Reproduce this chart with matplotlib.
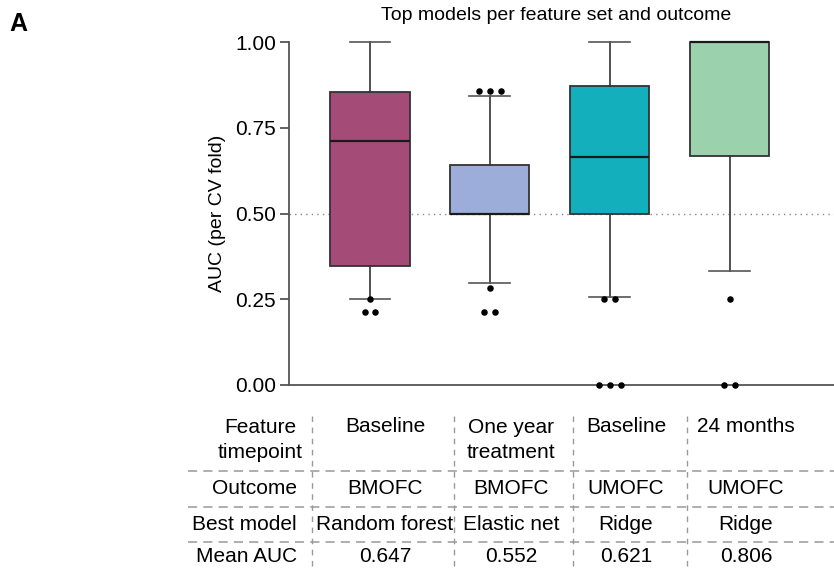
import matplotlib
matplotlib.use('Agg')
import matplotlib.pyplot as plt
from matplotlib.lines import Line2D

plt.rcParams['font.family'] = ['Liberation Sans', 'DejaVu Sans']

# box statistics (AUC per CV fold)
q1 = [0.348, 0.500, 0.500, 0.667]
med = [0.711, 0.500, 0.665, 1.000]
q3 = [0.854, 0.641, 0.872, 1.000]
whislo = [0.252, 0.297, 0.257, 0.333]
whishi = [1.000, 0.843, 1.000, 1.000]
fliers = [[0.25, 0.214, 0.214],
          [0.857, 0.857, 0.857, 0.283, 0.214, 0.214],
          [0.25, 0.25, 0.0, 0.0, 0.0],
          [0.25, 0.0, 0.0]]
colors = ['#A44B78', '#9DADDA', '#13AFBC', '#9CD1AE']

# table under the plot
row_labels = ['Feature\ntimepoint', 'Outcome', 'Best model', 'Mean AUC']
timepoint = ['Baseline', 'One year\ntreatment', 'Baseline', '24 months']
outcome = ['BMOFC', 'BMOFC', 'UMOFC', 'UMOFC']
best_model = ['Random forest', 'Elastic net', 'Ridge', 'Ridge']
mean_auc = ['0.647', '0.552', '0.621', '0.806']

W, H = 834, 571
fig = plt.figure(figsize=(W / 100, H / 100), dpi=100)


def fx(x):
    return x / W


def fy(y):
    return 1 - y / H


ax = fig.add_axes([fx(289), fy(385), fx(834 - 289), (385 - 42) / H])

stats = []
for i in range(4):
    stats.append(dict(q1=q1[i], med=med[i], q3=q3[i], whislo=whislo[i],
                      whishi=whishi[i], fliers=[]))
pos = list(range(4))
bp = ax.bxp(stats, positions=pos, widths=0.66, patch_artist=True,
            showfliers=False, capwidths=0.34,
            boxprops=dict(edgecolor='#333333', linewidth=1.3),
            medianprops=dict(color='#1a1a1a', linewidth=1.6),
            whiskerprops=dict(color='#333333', linewidth=1.2),
            capprops=dict(color='#555555', linewidth=1.2))
for patch, c in zip(bp['boxes'], colors):
    patch.set_facecolor(c)
for k in bp:
    for a in bp[k]:
        a.set_clip_on(False)
        a.set_zorder(3)

# outliers, spread sideways when values repeat
for i, vals in enumerate(fliers):
    for v in sorted(set(vals)):
        n = vals.count(v)
        xs = [i + (j - (n - 1) / 2) * 0.09 for j in range(n)]
        ax.scatter(xs, [v] * n, s=22, color='black', zorder=5, clip_on=False,
                   linewidths=0)

ax.axhline(0.5, color='#888888', linestyle=(0, (1, 3)), linewidth=1, zorder=1)

ax.set_xlim(-0.675, 3.87)
ax.set_ylim(0, 1)
ax.set_yticks([0, 0.25, 0.5, 0.75, 1.0])
ax.set_yticklabels(['0.00', '0.25', '0.50', '0.75', '1.00'])
ax.set_xticks([])
for s in ['top', 'right']:
    ax.spines[s].set_visible(False)
for s in ['left', 'bottom']:
    ax.spines[s].set_color('#555555')
    ax.spines[s].set_linewidth(1.3)
ax.tick_params(axis='y', length=6.5, width=1.3, color='#555555',
               labelsize=15, pad=3)
ax.set_ylabel('AUC (per CV fold)', fontsize=14, labelpad=6)

fig.text(fx(556), fy(16), 'Top models per feature set and outcome',
         ha='center', va='center', fontsize=14)
fig.text(fx(9), fy(24), 'A', ha='left', va='center', fontsize=18,
         fontweight='bold')

# table
col_x = [385, 511, 626, 746]
row_y = [440, 488, 525, 557]
cells = [timepoint, outcome, best_model, mean_auc]
for r in range(4):
    if r == 0:
        fig.text(fx(303), fy(row_y[r]), row_labels[r], ha='right',
                 va='center', multialignment='center', fontsize=15,
                 linespacing=1.35)
    else:
        fig.text(fx(297), fy(row_y[r]), row_labels[r], ha='right',
                 va='center', fontsize=15)
    for c in range(4):
        txt = cells[r][c]
        y = row_y[r]
        if r == 0 and '\n' not in txt:
            y = 427
        fig.text(fx(col_x[c]), fy(y), txt, ha='center', va='center',
                 fontsize=15, linespacing=1.35, multialignment='center')

for y in [471, 507, 542]:
    fig.add_artist(Line2D([fx(188), fx(834)], [fy(y), fy(y)],
                          color='#999999', linewidth=1.1,
                          linestyle=(0, (6, 4))))
for x in [312, 454, 573, 687]:
    fig.add_artist(Line2D([fx(x), fx(x)], [fy(416), fy(571)],
                          color='#999999', linewidth=1.0,
                          linestyle=(0, (4, 4))))

fig.savefig('out.png', dpi=100)
